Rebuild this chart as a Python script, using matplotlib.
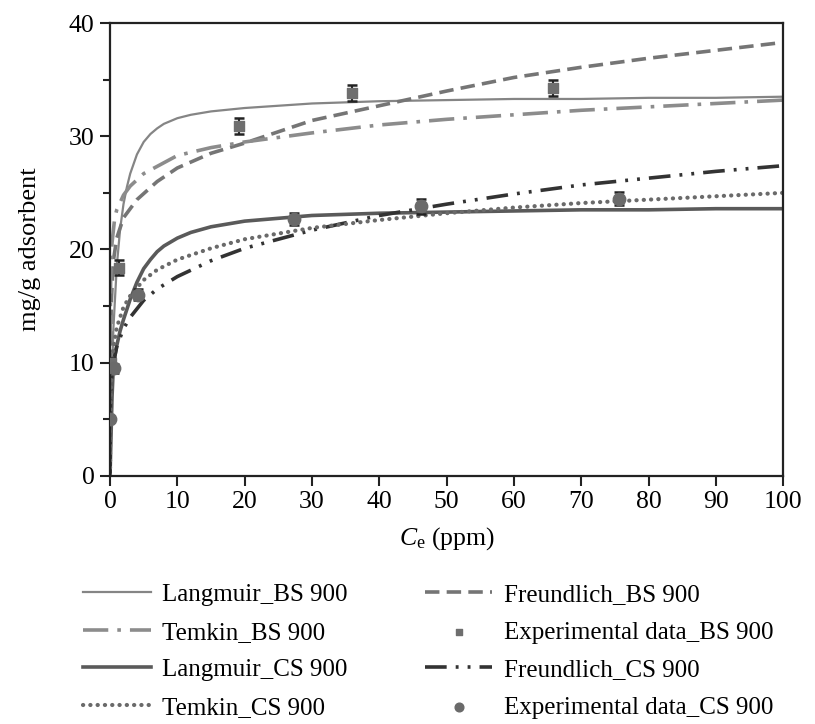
#!/usr/bin/env python3
"""
Adsorption isotherm fits (Langmuir, Freundlich, Temkin) for BS 900 and CS 900.
"""

import matplotlib
matplotlib.use("Agg")
import matplotlib.pyplot as plt
from matplotlib.ticker import MultipleLocator

# ---- data ----
# experimental points
exp_bs_x = [0.2, 1.4, 19.2, 36.0, 65.8]
exp_bs_y = [10.0, 18.4, 30.9, 33.8, 34.3]
exp_bs_err = [0.4, 0.7, 0.7, 0.7, 0.7]

exp_cs_x = [0.05, 0.6, 4.2, 27.4, 46.2, 75.6]
exp_cs_y = [5.0, 9.5, 16.0, 22.7, 23.8, 24.5]
exp_cs_err = [0.3, 0.4, 0.5, 0.5, 0.7, 0.6]

# model curves (sampled along the drawn lines)
lang_bs_x = [0, 0.2, 0.5, 1, 1.5, 2, 2.5, 3, 4, 5, 6, 7, 8, 10, 12, 15, 20, 30, 40, 50,
             60, 70, 80, 90, 100]
lang_bs_y = [0, 7.0, 13.0, 18.5, 21.8, 24.0, 25.5, 26.7, 28.4, 29.5, 30.2, 30.7, 31.1,
             31.6, 31.9, 32.2, 32.5, 32.9, 33.1, 33.2, 33.3, 33.3, 33.4, 33.4, 33.5]

freu_bs_x = [0, 0.05, 0.2, 0.5, 1, 2, 4, 7, 10, 15, 20, 30, 40, 50, 60, 70, 80, 90, 100]
freu_bs_y = [0, 11.0, 15.5, 19.0, 21.0, 22.8, 24.4, 26.0, 27.2, 28.5, 29.4, 31.4, 32.7,
             34.0, 35.2, 36.1, 36.9, 37.6, 38.3]

temk_bs_x = [0.0, 0.01, 0.1, 0.3, 0.7, 1, 2, 3, 5, 10, 15, 20, 30, 40, 50, 60, 70, 80, 90, 100]
temk_bs_y = [-0.5, 12.0, 17.8, 20.6, 22.8, 23.5, 24.8, 25.6, 26.7, 28.3, 29.0, 29.5, 30.3,
             31.0, 31.5, 31.9, 32.3, 32.6, 32.9, 33.2]

lang_cs_x = [0, 0.3, 0.5, 1, 1.5, 2, 3, 4, 5, 6, 7, 8, 10, 12, 15, 20, 30, 40, 50, 60, 70,
             80, 90, 100]
lang_cs_y = [0, 7.0, 9.8, 11.5, 12.8, 13.8, 15.6, 17.1, 18.3, 19.1, 19.8, 20.3, 21.0, 21.5,
             22.0, 22.5, 23.0, 23.2, 23.3, 23.4, 23.5, 23.5, 23.6, 23.6]

freu_cs_x = [0, 0.02, 0.1, 0.3, 0.5, 1, 2, 3, 5, 7, 10, 15, 20, 30, 40, 50, 60, 70, 80, 90, 100]
freu_cs_y = [0, 5.4, 7.4, 9.1, 10.0, 11.4, 13.0, 14.0, 15.5, 16.5, 17.6, 19.0, 20.1, 21.7,
             23.0, 24.0, 24.9, 25.7, 26.3, 26.9, 27.4]

temk_cs_x = [0.005, 0.02, 0.1, 0.3, 0.5, 1, 2, 3, 5, 7, 10, 15, 20, 30, 40, 50, 60, 70, 80, 90, 100]
temk_cs_y = [-0.6, 3.0, 7.2, 10.0, 11.3, 13.1, 14.9, 15.9, 17.3, 18.2, 19.1, 20.1, 20.9, 21.9,
             22.6, 23.2, 23.7, 24.1, 24.4, 24.7, 25.0]

x_ticks = [0, 10, 20, 30, 40, 50, 60, 70, 80, 90, 100]
y_ticks = [0, 10, 20, 30, 40]


def main():
    plt.rcParams["font.family"] = ["Liberation Serif", "DejaVu Serif"]
    plt.rcParams["mathtext.fontset"] = "custom"
    plt.rcParams["mathtext.rm"] = "Liberation Serif"
    plt.rcParams["mathtext.it"] = "Liberation Serif:italic"

    fig = plt.figure(figsize=(8.15, 7.24), dpi=100)
    ax = fig.add_axes([0.135, 0.343, 0.826, 0.625])

    h_lbs, = ax.plot(lang_bs_x, lang_bs_y, color="#858585", lw=1.6, label="Langmuir_BS 900")
    h_fbs, = ax.plot(freu_bs_x, freu_bs_y, color="#757575", lw=2.6,
                     linestyle=(0, (4, 2)), label="Freundlich_BS 900")
    h_tbs, = ax.plot(temk_bs_x, temk_bs_y, color="#8c8c8c", lw=2.6,
                     linestyle=(0, (7, 2.5, 1, 2.5)), label="Temkin_BS 900")
    h_lcs, = ax.plot(lang_cs_x, lang_cs_y, color="#5a5a5a", lw=2.6, label="Langmuir_CS 900")
    h_fcs, = ax.plot(freu_cs_x, freu_cs_y, color="#333333", lw=2.6,
                     linestyle=(0, (6, 2.5, 0.8, 2.5, 0.8, 2.5)), label="Freundlich_CS 900")
    h_tcs, = ax.plot(temk_cs_x, temk_cs_y, color="#6a6a6a", lw=3.0,
                     linestyle=(0, (0.05, 1.7)), dash_capstyle="round", label="Temkin_CS 900")

    ax.errorbar(exp_bs_x, exp_bs_y, yerr=exp_bs_err, fmt="none", ecolor="#222222",
                elinewidth=1.5, capsize=3.7, capthick=1.8, zorder=4)
    h_ebs = ax.scatter(exp_bs_x, exp_bs_y, marker="s", s=50, color="#6e6e6e", zorder=5,
                       label="Experimental data_BS 900")
    ax.errorbar(exp_cs_x, exp_cs_y, yerr=exp_cs_err, fmt="none", ecolor="#222222",
                elinewidth=1.5, capsize=3.7, capthick=1.8, zorder=4)
    h_ecs = ax.scatter(exp_cs_x, exp_cs_y, marker="o", s=80, color="#6a6a6a", zorder=5,
                       label="Experimental data_CS 900")

    ax.set_xlim(0, 100)
    ax.set_ylim(0, 40)
    ax.set_xticks(x_ticks)
    ax.set_yticks(y_ticks)
    ax.yaxis.set_minor_locator(MultipleLocator(5))
    ax.tick_params(axis="both", which="major", direction="out", length=7, width=1.5,
                   labelsize=18.5, color="#222222", pad=4)
    ax.tick_params(axis="y", which="minor", direction="out", length=5, width=1.5, color="#222222")
    for sp in ax.spines.values():
        sp.set_linewidth(1.6)
        sp.set_color("#222222")

    ax.set_xlabel(r"$C_\mathrm{e}$ (ppm)", fontsize=18.5, labelpad=9)
    ax.set_ylabel("mg/g adsorbent", fontsize=19, labelpad=20)

    handles = [h_lbs, h_tbs, h_lcs, h_tcs, h_fbs, h_ebs, h_fcs, h_ecs]
    fig.legend(handles=handles, labels=[h.get_label() for h in handles], ncol=2,
               loc="upper left", bbox_to_anchor=(0.102, 0.194), frameon=False,
               fontsize=18, handlelength=2.7, handletextpad=0.45, columnspacing=3.1,
               labelspacing=0.6, borderpad=0, borderaxespad=0, markerscale=0.7)

    fig.savefig("out.png", dpi=100)
    plt.close(fig)


if __name__ == "__main__":
    main()
